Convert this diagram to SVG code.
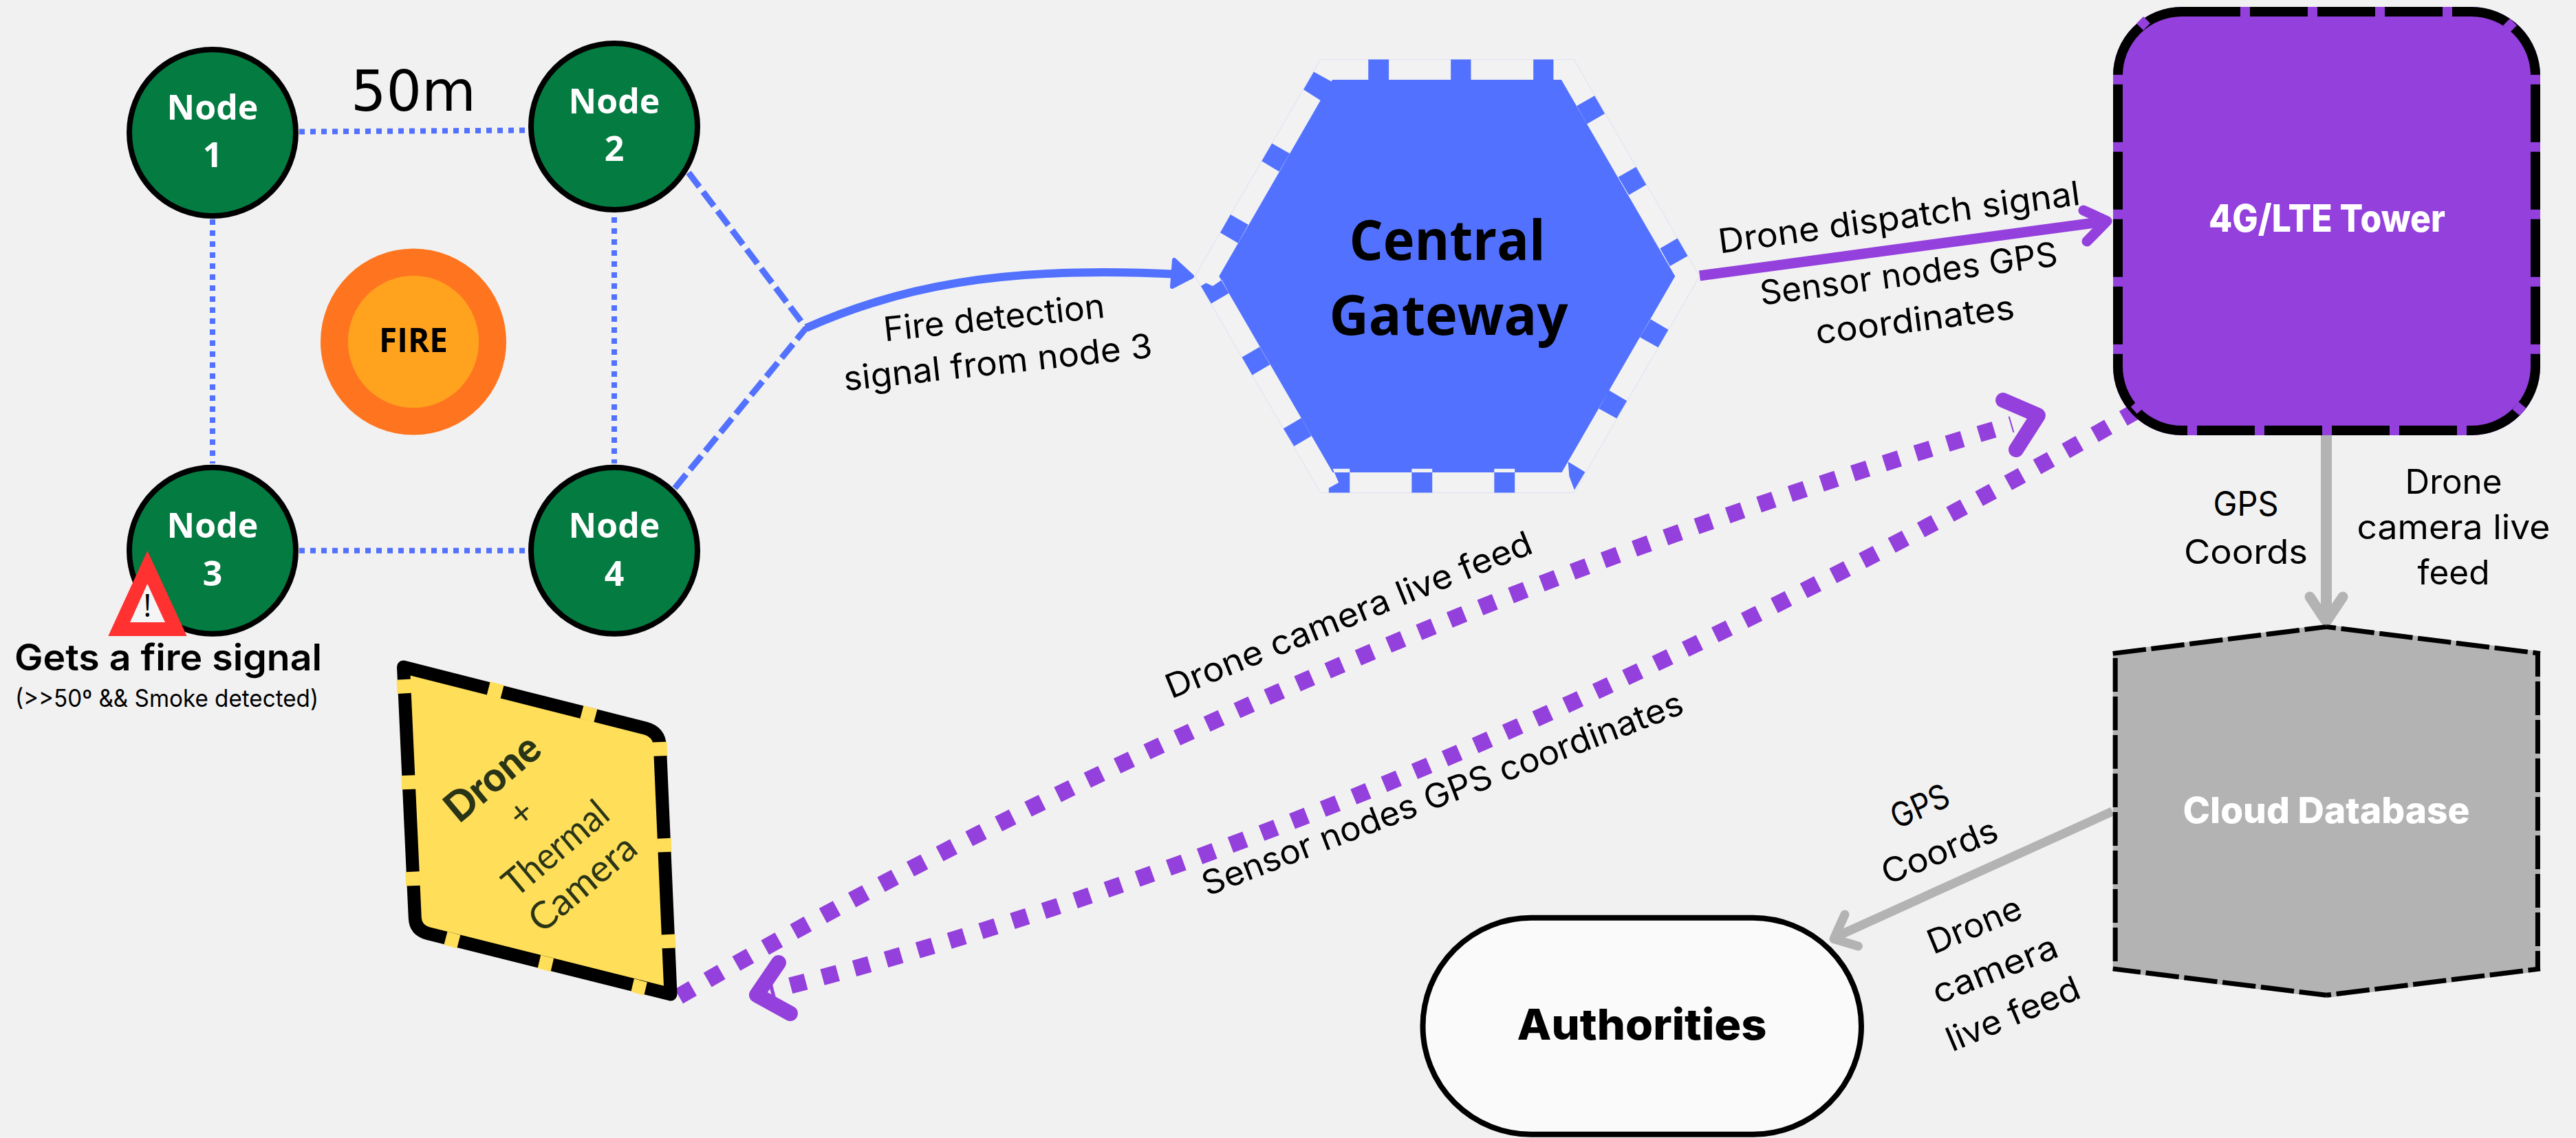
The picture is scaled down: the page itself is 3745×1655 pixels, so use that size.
<svg xmlns="http://www.w3.org/2000/svg" width="3745" height="1655" viewBox="0 0 3745 1655">
<style>
text{font-family:"Inter","Liberation Sans",sans-serif;fill:#000}
.lbl{font-size:49px;font-weight:400;text-anchor:middle}
.nt{font-family:"Open Sans","Noto Sans",sans-serif;font-weight:700;font-size:50px;fill:#fff;text-anchor:middle}
.node{fill:#047b41;stroke:#000;stroke-width:8}
.dot{fill:none;stroke:#5271ff;stroke-width:8;stroke-dasharray:8 8}
.dash{fill:none;stroke:#5271ff;stroke-width:9;stroke-dasharray:26 9}
.pdot{fill:none;stroke:#9440dd;stroke-width:24;stroke-dasharray:23 25}
.phead{fill:none;stroke:#9440dd;stroke-linecap:round;stroke-linejoin:round}
.ghead{fill:none;stroke:#b3b3b3;stroke-linecap:round;stroke-linejoin:round}
.tgap{stroke:#9440dd;stroke-width:14;fill:none}
.dbl{stroke:#000;stroke-width:7;fill:none}
.dtx{font-family:"Lato","Liberation Sans",sans-serif;fill:#2a3517;text-anchor:middle}
</style>
<rect width="3745" height="1655" fill="#f1f1f1"/>
<g id="connectors">
<line class="dot" x1="435" y1="191.5" x2="764" y2="189.5"/>
<line class="dot" x1="309" y1="319" x2="309" y2="674"/>
<line class="dot" x1="893" y1="316" x2="893" y2="674"/>
<line class="dot" x1="435" y1="800.7" x2="764" y2="800.7"/>
<line class="dash" x1="1001" y1="251" x2="1172" y2="477"/>
<line class="dash" x1="981" y1="710" x2="1172" y2="477"/>
<path d="M1172 477C1300 420 1450 385 1715 399" fill="none" stroke="#5271ff" stroke-width="12"/>
<path d="M1733 402L1707 378L1704 417Z" fill="#5271ff" stroke="#5271ff" stroke-width="6" stroke-linejoin="round"/>
<line x1="2471" y1="401" x2="3060" y2="322" stroke="#9440dd" stroke-width="15"/>
<path class="phead" stroke-width="15" d="M3029 306L3063 321.5L3034 351"/>
<path class="pdot" d="M987 1449Q1911 915 2925 617"/>
<path class="phead" stroke-width="22" d="M2912 582L2963 604L2931 654"/>
<path class="pdot" d="M3107 597Q2047 1205 1120 1441"/>
<path class="phead" stroke-width="22" d="M1132 1400L1100 1447L1149 1474"/>
<line x1="3382" y1="629" x2="3382" y2="900" stroke="#b3b3b3" stroke-width="16"/>
<path class="ghead" stroke-width="15" d="M3358 868L3382 904L3406 868"/>
<line x1="3071" y1="1180" x2="2670" y2="1362" stroke="#b3b3b3" stroke-width="13"/>
<path class="ghead" stroke-width="13" d="M2682 1330L2666 1365.5L2701.5 1376"/>
</g>
<g id="fire">
<ellipse cx="601" cy="497" rx="135" ry="135.5" fill="#ff751f"/>
<ellipse cx="601" cy="497" rx="95" ry="96" fill="#ffa31f"/>
<text x="601" y="512" style="font-family:'Open Sans',sans-serif;font-weight:700;font-size:49px;text-anchor:middle" textLength="100" lengthAdjust="spacingAndGlyphs">FIRE</text>
</g>
<g id="node1"><circle class="node" cx="309" cy="193" r="121"/><text class="nt" x="309" y="174">Node</text><text class="nt" x="309" y="243">1</text></g>
<g id="node2"><circle class="node" cx="893" cy="184" r="121"/><text class="nt" x="893" y="165">Node</text><text class="nt" x="893" y="234">2</text></g>
<g id="node3"><circle class="node" cx="309" cy="800.7" r="121"/><text class="nt" x="309" y="782">Node</text><text class="nt" x="309" y="852">3</text></g>
<g id="node4"><circle class="node" cx="893" cy="800.7" r="121"/><text class="nt" x="893" y="782">Node</text><text class="nt" x="893" y="852">4</text></g>
<text x="510" y="161" style="font-family:'DejaVu Sans',sans-serif;font-size:82px" textLength="182" lengthAdjust="spacingAndGlyphs">50m</text>
<g id="warning">
<polygon points="214.3,801 157.3,925 271.7,925" fill="#ff3131"/>
<polygon points="214.3,849 189,905 240,905" fill="#f5f5f5"/>
<text x="214.3" y="897" style="font-family:'Open Sans',sans-serif;font-size:46px;text-anchor:middle">!</text>
<text x="21" y="975" style="font-size:53px;font-weight:600" textLength="447" lengthAdjust="spacingAndGlyphs">Gets a fire signal</text>
<text x="22" y="1028" style="font-size:35px" textLength="441" lengthAdjust="spacingAndGlyphs">(&gt;&gt;50º &amp;&amp; Smoke detected)</text>
</g>
<g id="gateway">
<g transform="translate(1650 50) scale(.574 .4464)">
<polygon points="470,82 1112,82 1430,788 1112,1493 470,1493 152,788" fill="#f2f2f2" stroke="#dcdff5" stroke-width="1" vector-effect="non-scaling-stroke"/>
<path fill="#5271ff" d="M500 148H1080L1368 788L1081 1427H501L213 788ZM591 82H643V160H591ZM800 82H851V160H800ZM1009 82H1060V160H1009ZM1164 200L1190 258L1145 292L1119 233ZM1269 432L1295 490L1251 523L1224 465ZM1374 664L1400 722L1355 755L1330 697ZM1351 962L1325 1020L1279 987L1306 928ZM1246 1194L1220 1251L1175 1219L1201 1160ZM1140 1426L1113 1484L1100 1440L1097 1392ZM701 1493H753V1415H701ZM910 1493H962V1415H910ZM491 1493H544V1415H501L516 1460L491 1478ZM271 1052L297 1110L342 1076L316 1018ZM376 1284L403 1342L447 1308L421 1250ZM167 820L193 877L238 843L220 800L197 820L180 810ZM216 646L242 587L287 620L261 680ZM321 413L347 355L392 388L365 447ZM427 180L453 122L500 155L470 215Z"/>
</g>
<text x="2104" y="378" style="font-family:'Open Sans',sans-serif;font-weight:700;font-size:80px;text-anchor:middle" textLength="285" lengthAdjust="spacingAndGlyphs">Central</text>
<text x="2106" y="487" style="font-family:'Open Sans',sans-serif;font-weight:700;font-size:80px;text-anchor:middle" textLength="347" lengthAdjust="spacingAndGlyphs">Gateway</text>
</g>
<g id="tower">
<rect x="3072" y="10" width="621" height="623" rx="100" fill="#9440dd"/>
<rect x="3079" y="17" width="607" height="609" rx="93" fill="none" stroke="#000" stroke-width="14"/>
<line class="tgap" x1="3257" y1="17" x2="3566" y2="17" stroke-dasharray="14 84"/>
<line class="tgap" x1="3180" y1="626" x2="3586" y2="626" stroke-dasharray="14 84"/>
<line class="tgap" x1="3079" y1="108.7" x2="3079" y2="516" stroke-dasharray="14 84"/>
<line class="tgap" x1="3686" y1="108.7" x2="3686" y2="516" stroke-dasharray="14 84"/>
<line class="tgap" x1="3111" y1="39" x2="3121" y2="29"/>
<line class="tgap" x1="3644" y1="32" x2="3654" y2="42"/>
<line class="tgap" x1="3667" y1="589" x2="3658" y2="600"/>
<line class="tgap" x1="3103" y1="587" x2="3112" y2="597"/>
<text x="3383" y="337" style="font-size:55px;font-weight:800;fill:#fff;text-anchor:middle" textLength="344" lengthAdjust="spacingAndGlyphs">4G/LTE Tower</text>
</g>
<g id="cloud-database">
<polygon points="3071.7,947.3 3382,908.5 3693,947.3 3693,1412.5 3382,1451 3071.7,1412.5" fill="#b3b3b3"/>
<line class="dbl" x1="3075.2" y1="957" x2="3075.2" y2="1399" stroke-dasharray="49 7"/>
<line class="dbl" x1="3689.4" y1="947.3" x2="3689.4" y2="1412" stroke-dasharray="49 7" stroke-dashoffset="12.3"/>
<line class="dbl" x1="3071.7" y1="950.4" x2="3382" y2="911.6" stroke-dasharray="48.5 7.7"/>
<line class="dbl" x1="3382" y1="911.6" x2="3693" y2="950.4" stroke-dasharray="48.5 7.7" stroke-dashoffset="34.5"/>
<line class="dbl" x1="3071.7" y1="1408.9" x2="3382" y2="1447.3" stroke-dasharray="48.5 7.7" stroke-dashoffset="8"/>
<line class="dbl" x1="3382" y1="1447.3" x2="3693" y2="1408.9" stroke-dasharray="48.5 7.7" stroke-dashoffset="41.5"/>
<text x="3382" y="1197" style="font-size:52px;font-weight:800;fill:#fff;text-anchor:middle" textLength="417" lengthAdjust="spacingAndGlyphs">Cloud Database</text>
</g>
<g id="drone">
<path d="M586.5 970L938 1059Q958.6 1064.5 959.4 1085L975 1446L622 1357.5Q604 1352.6 603.3 1335Z" fill="#ffde59" stroke="#000" stroke-width="19" stroke-linejoin="round"/>
<g transform="translate(500 900) scale(.5102 .4146)">
<path fill="#ffde59" d="M150 214L192 211L193 260L152 263ZM163 550L204 548L206 597L165 599ZM175 888L216 886L218 935L177 937ZM417 220L456 233L446 280L407 268ZM683 304L722 317L712 363L673 350ZM880 433L920 431L922 480L882 482ZM892 771L932 769L934 817L894 819ZM904 1108L944 1106L946 1154L906 1156ZM295 1097L332 1109L322 1156L285 1143ZM561 1179L598 1191L589 1238L552 1226ZM827 1262L864 1275L855 1321L818 1308Z"/>
</g>
<text class="dtx" transform="translate(729 1147) rotate(-40)" style="font-size:60px;font-weight:900" textLength="161" lengthAdjust="spacingAndGlyphs">Drone</text>
<text class="dtx" transform="translate(769 1196) rotate(-40)" style="font-size:52px">+</text>
<text class="dtx" transform="translate(820 1248) rotate(-40)" style="font-size:55px" textLength="182" lengthAdjust="spacingAndGlyphs">Thermal</text>
<text class="dtx" transform="translate(859 1299) rotate(-40)" style="font-size:55px" textLength="186" lengthAdjust="spacingAndGlyphs">Camera</text>
</g>
<g id="authorities">
<rect x="2068.5" y="1334.8" width="637.5" height="315" rx="157.5" fill="#fafafa" stroke="#000" stroke-width="8"/>
<text x="2387" y="1512" style="font-size:62px;font-weight:800;text-anchor:middle" textLength="363" lengthAdjust="spacingAndGlyphs">Authorities</text>
</g>
<g id="labels">
<text class="lbl" transform="translate(1447 479) rotate(-6.2)" textLength="323" lengthAdjust="spacingAndGlyphs">Fire detection</text>
<text class="lbl" transform="translate(1452.5 544) rotate(-6.2)" textLength="451" lengthAdjust="spacingAndGlyphs">signal from node 3</text>
<text class="lbl" transform="translate(2763 333) rotate(-7.7)" textLength="530" lengthAdjust="spacingAndGlyphs">Drone dispatch signal</text>
<text class="lbl" transform="translate(2777 415) rotate(-7.6)" textLength="436" lengthAdjust="spacingAndGlyphs">Sensor nodes GPS</text>
<text class="lbl" transform="translate(2786 482) rotate(-7.3)" textLength="291" lengthAdjust="spacingAndGlyphs">coordinates</text>
<text class="lbl" transform="translate(1967 910) rotate(-22)" textLength="570" lengthAdjust="spacingAndGlyphs">Drone camera live feed</text>
<text class="lbl" transform="translate(2103 1170) rotate(-21)" textLength="745" lengthAdjust="spacingAndGlyphs">Sensor nodes GPS coordinates</text>
<text class="lbl" x="3265" y="750" textLength="95" lengthAdjust="spacingAndGlyphs">GPS</text>
<text class="lbl" x="3265" y="820" textLength="180" lengthAdjust="spacingAndGlyphs">Coords</text>
<text class="lbl" x="3567" y="718" textLength="141" lengthAdjust="spacingAndGlyphs">Drone</text>
<text class="lbl" x="3567" y="784" textLength="281" lengthAdjust="spacingAndGlyphs">camera live</text>
<text class="lbl" x="3567" y="850" textLength="105" lengthAdjust="spacingAndGlyphs">feed</text>
<text class="lbl" transform="translate(2798 1188) rotate(-24)" textLength="88" lengthAdjust="spacingAndGlyphs">GPS</text>
<text class="lbl" transform="translate(2826 1254) rotate(-22)" textLength="178" lengthAdjust="spacingAndGlyphs">Coords</text>
<text class="lbl" transform="translate(2877 1361) rotate(-22.4)" textLength="144" lengthAdjust="spacingAndGlyphs">Drone</text>
<text class="lbl" transform="translate(2906.5 1425.5) rotate(-21.6)" textLength="192" lengthAdjust="spacingAndGlyphs">camera</text>
<text class="lbl" transform="translate(2933 1490) rotate(-22.9)" textLength="206" lengthAdjust="spacingAndGlyphs">live feed</text>
</g>
</svg>
